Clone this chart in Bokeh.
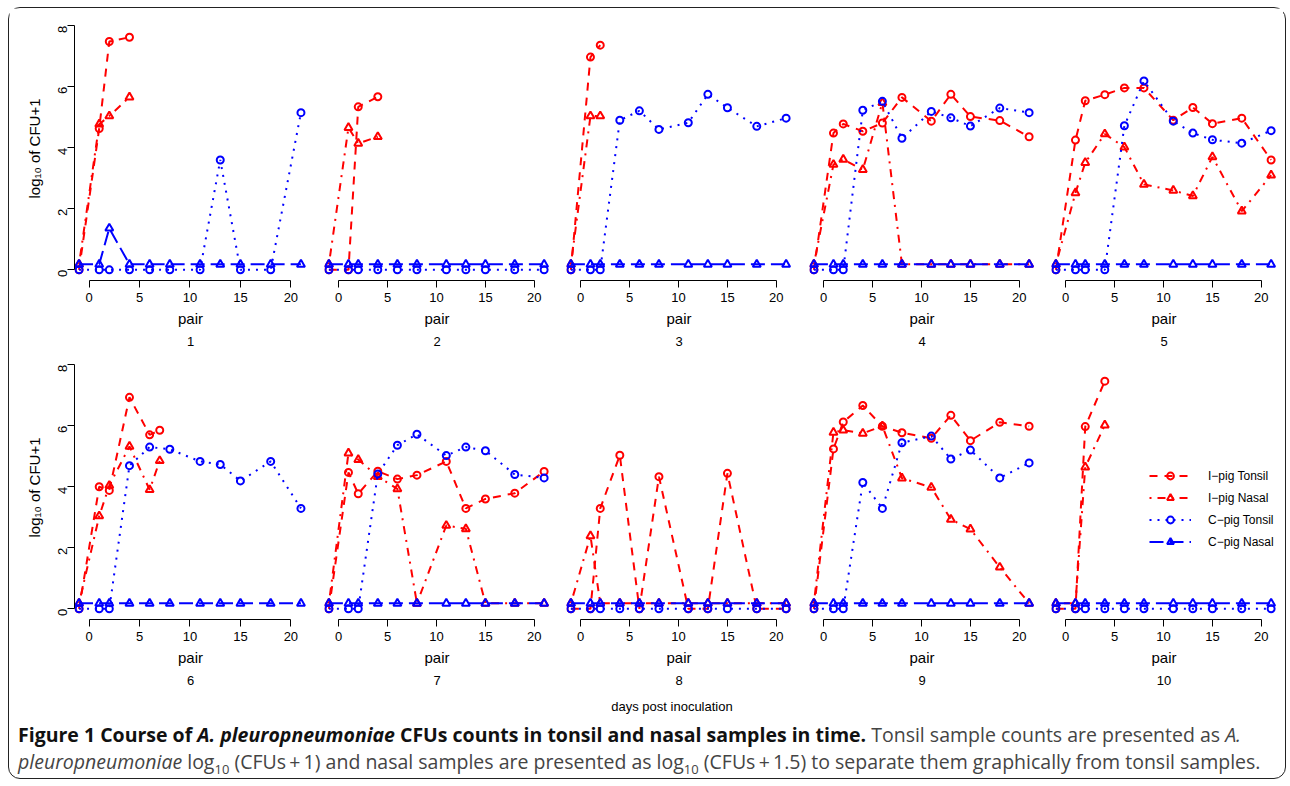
import math
import numpy as np
from bokeh.plotting import figure
from bokeh.layouts import row, column
from bokeh.models import Div, Title, Legend, LegendItem, FixedTicker
from bokeh.embed import file_html
from bokeh.resources import INLINE

# ---------------- data ----------------
days = [-1, 1, 2, 4, 6, 8, 11, 13, 15, 18, 21]
days_pair6_infected = [-1, 1, 2, 4, 6, 7]
pairs = ["1", "2", "3", "4", "5", "6", "7", "8", "9", "10"]

# I-pig tonsil, log10(CFU+1)
i_tonsil = [
    [0, 4.63, 7.48, 7.62],
    [0, 0, 5.34, 5.67],
    [0, 6.97, 7.36],
    [0, 4.48, 4.78, 4.54, 4.81, 5.65, 4.87, 5.75, 5.02, 4.89, 4.36],
    [0, 4.25, 5.54, 5.74, 5.96, 5.96, 4.90, 5.32, 4.79, 4.97, 3.60],
    [0, 4.00, 3.88, 6.93, 5.70, 5.85],
    [0, 4.47, 3.77, 4.51, 4.25, 4.38, 4.83, 3.29, 3.60, 3.79, 4.50],
    [0, 0, 3.29, 5.03, 0, 4.33, 0, 0, 4.44, 0, 0],
    [0, 5.24, 6.12, 6.66, 5.98, 5.77, 5.59, 6.34, 5.51, 6.11, 5.98],
    [0, 0, 5.97, 7.46],
]
# I-pig nasal, log10(CFU+1.5)
i_nasal = [
    [0.18, 4.77, 5.04, 5.66],
    [0.18, 4.66, 4.14, 4.36],
    [0.18, 5.04, 5.04],
    [0.18, 3.45, 3.62, 3.28, 5.48, 0.18, 0.18, 0.18, 0.18, 0.18, 0.18],
    [0.18, 2.52, 3.51, 4.45, 4.02, 2.80, 2.60, 2.42, 3.70, 1.92, 3.10],
    [0.18, 3.04, 4.04, 5.32, 3.90, 4.85],
    [0.18, 5.10, 4.89, 4.33, 3.93, 0.18, 2.73, 2.62, 0.18, 0.18, 0.18],
    [0.18, 2.39, 0.18, 0.18, 0.18, 0.18, 0.18, 0.18, 0.18, 0.18, 0.18],
    [0.18, 5.78, 5.85, 5.75, 5.99, 4.28, 3.98, 2.93, 2.61, 1.36, 0.18],
    [0.18, 0.18, 4.64, 6.02],
]
# C-pig tonsil
c_tonsil = [
    [0, 0, 0, 0, 0, 0, 0, 3.60, 0, 0, 5.15],
    [0, 0, 0, 0, 0, 0, 0, 0, 0, 0, 0],
    [0, 0, 0, 4.90, 5.21, 4.60, 4.82, 5.75, 5.31, 4.70, 4.97],
    [0, 0, 0, 5.23, 5.52, 4.31, 5.19, 4.98, 4.71, 5.30, 5.15],
    [0, 0, 0, 0, 4.72, 6.19, 4.87, 4.48, 4.26, 4.15, 4.56],
    [0, 0, 0, 4.69, 5.30, 5.23, 4.83, 4.73, 4.19, 4.83, 3.29],
    [0, 0, 0, 4.42, 5.36, 5.72, 5.02, 5.30, 5.18, 4.40, 4.29],
    [0, 0, 0, 0, 0, 0, 0, 0, 0, 0, 0],
    [0, 0, 0, 4.14, 3.29, 5.44, 5.66, 4.91, 5.20, 4.29, 4.78],
    [0, 0, 0, 0, 0, 0, 0, 0, 0, 0, 0],
]
# C-pig nasal
c_nasal = [
    [0.18, 0.18, 1.36, 0.18, 0.18, 0.18, 0.18, 0.18, 0.18, 0.18, 0.18],
] + [[0.18] * 11 for _ in range(9)]

y_ticks = [0, 2, 4, 6, 8]
x_ticks = [0, 5, 10, 15, 20]
series_names = ["I\u2212pig Tonsil", "I\u2212pig Nasal", "C\u2212pig Tonsil", "C\u2212pig Nasal"]

# ---------------- styles ----------------
RED, BLUE = "#ff0000", "#0000ff"
colors = [RED, RED, BLUE, BLUE]
dashes = ["8 7", "2 6 8 6", "2 6", "14 6"]
markers = ["circle", "triangle", "circle", "triangle"]
msizes = [7, 8, 7, 8]
FONT = "Liberation Sans"

lefts = [65, 18, 17, 18, 17]


def make_panel(k):
    col = k % 5
    first = col == 0
    top_row = k < 5
    p = figure(
        frame_width=232 if first else 225,
        frame_height=264,
        x_range=(-1.45, 21.55),
        y_range=(-0.35, 8.3),
        output_backend="svg",
        toolbar_location=None,
        y_axis_location="left" if first else None,
        min_border_left=lefts[col],
        min_border_right=7 if col == 4 else 0,
        min_border_top=8 if top_row else 0,
        min_border_bottom=75 if top_row else 80,
        background_fill_color="white",
        border_fill_color="white",
    )
    p.outline_line_color = None
    p.grid.visible = False

    ax = p.xaxis[0]
    ax.ticker = FixedTicker(ticks=x_ticks)
    ax.bounds = (0, 20)
    ax.major_tick_out = 7
    ax.major_tick_in = 0
    ax.minor_tick_line_color = None
    ax.axis_line_color = "black"
    ax.major_tick_line_color = "black"
    ax.major_label_text_font = FONT
    ax.major_label_text_font_size = "13px"
    ax.major_label_text_color = "black"
    ax.major_label_standoff = 5
    ax.axis_label = "pair"
    ax.axis_label_text_font = FONT
    ax.axis_label_text_font_size = "15px"
    ax.axis_label_text_font_style = "normal"
    ax.axis_label_text_color = "black"
    ax.axis_label_standoff = 5

    if first:
        ay = p.yaxis[0]
        ay.ticker = FixedTicker(ticks=y_ticks)
        ay.bounds = (0, 8)
        ay.major_tick_out = 7
        ay.major_tick_in = 0
        ay.minor_tick_line_color = None
        ay.axis_line_color = "black"
        ay.major_tick_line_color = "black"
        ay.major_label_orientation = math.pi / 2
        ay.major_label_text_font = FONT
        ay.major_label_text_font_size = "13px"
        ay.major_label_text_color = "black"
        ay.major_label_standoff = 5
        ay.axis_label = "log\u2081\u2080 of CFU+1"
        ay.axis_label_text_font = FONT
        ay.axis_label_text_font_size = "15px"
        ay.axis_label_text_font_style = "normal"
        ay.axis_label_text_color = "black"
        ay.axis_label_standoff = 8

    p.add_layout(Title(text=pairs[k], align="center", text_font=FONT,
                       text_font_size="13px", text_font_style="normal",
                       text_color="black"), "below")

    xi = days_pair6_infected if k == 5 else days
    data = [i_tonsil[k], i_nasal[k], c_tonsil[k], c_nasal[k]]
    renderers = []
    for s in range(4):
        vals = data[s]
        xs = xi[:len(vals)] if s < 2 else days[:len(vals)]
        xs = np.array(xs, dtype=float)
        ys = np.array(vals, dtype=float)
        lr = p.line(xs, ys, line_color=colors[s], line_width=2, line_dash=dashes[s])
        sr = p.scatter(xs, ys, marker=markers[s], size=msizes[s], line_color=colors[s],
                       line_width=2, fill_color=None)
        renderers.append((lr, sr))

    if k == 9:
        items = [LegendItem(label=series_names[s], renderers=list(renderers[s])) for s in range(4)]
        leg = Legend(items=items, location=(98, 69), glyph_width=42, glyph_height=17,
                     spacing=5, padding=0, margin=0, label_standoff=17,
                     border_line_color=None, background_fill_alpha=0,
                     label_text_font=FONT, label_text_font_size="12px",
                     label_text_color="black")
        p.add_layout(leg)
    return p


panels = [make_panel(k) for k in range(10)]
row1 = row(*panels[:5])
row2 = row(*panels[5:])

days_div = Div(
    text='<div style="font-family:\'Liberation Sans\';font-size:13px;color:#000;'
         'width:1276px;box-sizing:border-box;text-align:center;padding-left:50px;'
         'line-height:14px;white-space:nowrap">days post inoculation</div>',
    width=1276, height=14, margin=0)

caption_html = (
    '<div style="font-family:\'Open Sans\';font-size:19.5px;line-height:27px;color:#444;'
    'padding-left:9px;padding-top:8px;white-space:nowrap">'
    '<b style="color:#111">Figure 1 Course of <i>A. pleuropneumoniae</i> CFUs counts in tonsil and '
    'nasal samples in time.</b> Tonsil sample counts are presented as <i>A.</i><br>'
    '<i>pleuropneumoniae</i> log<sub style="font-size:13px;line-height:0">10</sub> (CFUs\u2009+\u20091) '
    'and nasal samples are presented as log<sub style="font-size:13px;line-height:0">10</sub> '
    '(CFUs\u2009+\u20091.5) to separate them graphically from tonsil samples.</div>'
)
caption_div = Div(text=caption_html, width=1276, height=65, margin=0)

layout = column(row1, row2, days_div, caption_div, margin=(7, 0, 0, 8),
                styles={"border": "1.5px solid #222", "border-radius": "12px",
                        "background-color": "white"})

open("out.html", "w").write(file_html(layout, INLINE))
